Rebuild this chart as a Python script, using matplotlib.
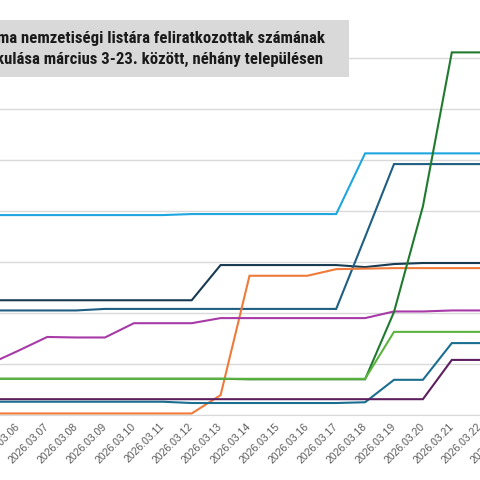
import matplotlib
matplotlib.use("Agg")
import matplotlib.pyplot as plt
from matplotlib.patches import Rectangle

# Dates 2026.03.03 - 2026.03.23
days = list(range(3, 24))
dates = [f"2026.03.{d:02d}" for d in days]

# Values (one gridline = 10)
dark_green = [7.1, 7.1, 7.1, 7.1, 7.1, 7.1, 7.1, 7.1, 7.1, 7.1, 7.1,
              7.0, 7.0, 7.0, 7.0, 7.0, 20.2, 40.9, 71.1, 71.1, 71.1]
light_green = [7.1, 7.1, 7.1, 7.1, 7.1, 7.1, 7.1, 7.1, 7.1, 7.1, 7.1,
               7.1, 7.1, 7.1, 7.1, 7.1, 16.3, 16.3, 16.3, 16.3, 16.3]
sky_blue = [39.2, 39.2, 39.2, 39.2, 39.2, 39.2, 39.2, 39.2, 39.2, 39.4, 39.4,
            39.4, 39.4, 39.4, 39.4, 51.3, 51.3, 51.3, 51.3, 51.3, 51.3]
navy = [22.5, 22.5, 22.5, 22.5, 22.5, 22.5, 22.5, 22.5, 22.5, 22.5, 29.4,
        29.4, 29.4, 29.4, 29.4, 29.0, 29.6, 29.8, 29.8, 29.8, 29.8]
steel = [20.5, 20.5, 20.5, 20.5, 20.5, 20.5, 20.8, 20.8, 20.8, 20.8, 20.8,
         20.8, 20.8, 20.8, 20.8, 34.9, 49.2, 49.2, 49.2, 49.2, 49.2]
orange = [0.3, 0.3, 0.3, 0.3, 0.3, 0.3, 0.3, 0.3, 0.3, 0.3, 3.9,
          27.3, 27.3, 27.3, 28.6, 28.7, 28.8, 28.8, 28.8, 28.8, 28.8]
magenta = [10.0, 10.0, 10.0, 12.6, 15.3, 15.2, 15.2, 18.0, 18.0, 18.0, 19.0,
           19.0, 19.0, 19.0, 19.0, 19.0, 20.3, 20.3, 20.5, 20.5, 20.5]
teal = [2.6, 2.6, 2.6, 2.6, 2.6, 2.6, 2.6, 2.6, 2.6, 2.35, 2.35,
        2.35, 2.35, 2.35, 2.35, 2.5, 6.9, 6.9, 14.1, 14.1, 14.1]
plum = [3.1, 3.1, 3.1, 3.1, 3.1, 3.1, 3.1, 3.1, 3.1, 3.1, 3.1,
        3.1, 3.1, 3.1, 3.1, 3.1, 3.1, 3.1, 10.8, 10.8, 10.8]

title_lines = ["A roma nemzetiségi listára feliratkozottak számának",
               "alakulása március 3-23. között, néhány településen"]

series = [
    (sky_blue, "#1ea6e0"),
    (navy, "#183b52"),
    (steel, "#1e5f82"),
    (orange, "#f07a3a"),
    (magenta, "#a83aa8"),
    (dark_green, "#207a2e"),
    (light_green, "#5cb33f"),
    (teal, "#1a6f90"),
    (plum, "#5e1f5f"),
]

# the picture is a crop: the plot area runs past the left and right edges
px_day, px_d12 = 28.9, 191.7
x0, x1 = 2.6, 23.4
left = (px_d12 + (x0 - 12) * px_day) / 480
width = (x1 - x0) * px_day / 480

fig = plt.figure(figsize=(4.8, 4.8), dpi=100)
ax = fig.add_axes([left, 1 - 415 / 480, width, 415 / 480])

for vals, col in series:
    ax.plot(days, vals, color=col, linewidth=1.5, solid_joinstyle="miter")

ax.set_xticks(days)
ax.set_xticklabels(dates, rotation=45, ha="right", va="center",
                   rotation_mode="anchor", fontsize=7.5, color="#595959",
                   family="Liberation Sans")
ax.tick_params(axis="x", length=0, pad=7)
ax.set_yticks(range(0, 80, 10))
ax.tick_params(axis="y", left=False, labelleft=False)
ax.yaxis.grid(True, color="#d9d9d9", linewidth=1)
ax.set_axisbelow(True)
ax.set_xlim(x0, x1)
ax.set_ylim(0, 415 / 5.1)
for s in ["top", "left", "right"]:
    ax.spines[s].set_visible(False)
ax.spines["bottom"].set_color("#d9d9d9")

# title box
fig.add_artist(Rectangle((-10 / 480, 1 - 77 / 480), 359 / 480, 57 / 480,
                         transform=fig.transFigure, facecolor="#d9d9d9",
                         edgecolor="none", zorder=5))
title_font = dict(family=["Roboto Condensed", "Roboto"], fontstretch="condensed",
                  fontweight="bold", color="#1a1a1a", zorder=6)

# size the title so the visible part of line 1 ("ma nemzetiségi ...") spans ~328 px
renderer = fig.canvas.get_renderer()
probe = fig.text(0, 0, title_lines[0][4:], fontsize=10, **title_font)
w = probe.get_window_extent(renderer).width
probe.remove()
tsize = 10 * 328 / w

fig.text(325 / 480, 1 - 39 / 480, title_lines[0],
         ha="right", va="center", fontsize=tsize, **title_font)
fig.text(323 / 480, 1 - 59 / 480, title_lines[1],
         ha="right", va="center", fontsize=tsize, **title_font)

fig.savefig("out.png", dpi=100)
